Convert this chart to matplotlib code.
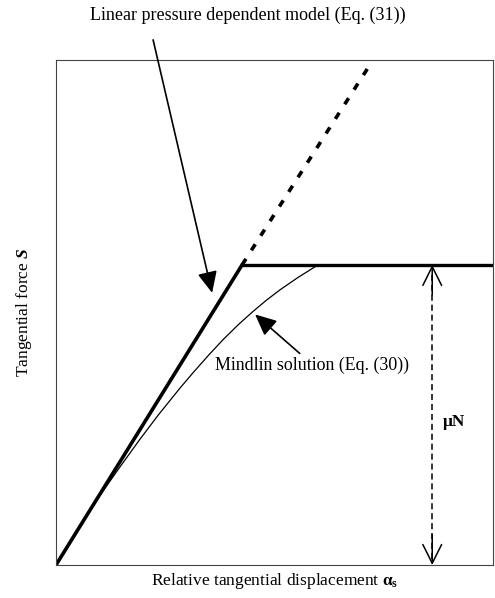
import matplotlib
matplotlib.use("Agg")
import matplotlib.pyplot as plt

# normalised units: stick limit at alpha = 1, S = muN = 1
linear_x = [0.0, 1.0]
linear_y = [0.0, 1.0]
extension_x = [1.0, 1.68]
extension_y = [1.0, 1.66]
plateau_x = [1.0, 2.35]
plateau_y = [1.0, 1.0]

# Mindlin curve
mindlin_x = [0.0, 0.2, 0.344, 0.45, 0.55, 0.667, 0.737, 0.82, 0.898, 0.98,
             1.059, 1.13, 1.204, 1.30, 1.403]
mindlin_y = [0.0, 0.2, 0.327, 0.418, 0.50, 0.59, 0.641, 0.699, 0.751, 0.801,
             0.845, 0.882, 0.917, 0.958, 0.998]

mu_n_x = 2.022

plt.rcParams['font.family'] = ['Liberation Serif', 'DejaVu Serif']
plt.rcParams['mathtext.fontset'] = 'custom'
plt.rcParams['mathtext.rm'] = 'Liberation Serif'
plt.rcParams['mathtext.it'] = 'Liberation Serif:bold:italic'
plt.rcParams['mathtext.bf'] = 'Liberation Serif:bold'

fig = plt.figure(figsize=(4.95, 5.98), dpi=100)
ax = fig.add_axes([0.1131, 0.0552, 0.883, 0.8445])
ax.set_xlim(0, 2.349)
ax.set_ylim(0, 1.683)
ax.set_xticks([])
ax.set_yticks([])
for sp in ax.spines.values():
    sp.set_linewidth(0.8)
    sp.set_color('#444444')

ax.plot(linear_x, linear_y, color='black', lw=2.6, solid_capstyle='round')
ax.plot(plateau_x, plateau_y, color='black', lw=2.4)
ax.plot(extension_x, extension_y, color='black', lw=2.6, ls=(0, (2.0, 2.8)))
ax.plot(mindlin_x, mindlin_y, color='black', lw=0.9)

# muN double arrow
ax.plot([mu_n_x, mu_n_x], [0.02, 0.98], color='black', lw=1.1, ls=(0, (4, 2.5)))
head = dict(arrowstyle='->,head_length=0.9,head_width=0.45', color='black',
            lw=1.1, mutation_scale=15, shrinkA=0, shrinkB=0)
ax.annotate('', xy=(mu_n_x, 1.0), xytext=(mu_n_x, 0.9), arrowprops=head)
ax.annotate('', xy=(mu_n_x, 0.0), xytext=(mu_n_x, 0.1), arrowprops=head)
ax.text(mu_n_x + 0.055, 0.475, '\u03bcN', fontsize=12.5, va='center', ha='left',
        fontweight='bold')

fill_head = dict(arrowstyle='-|>,head_length=1.3,head_width=0.6', color='black',
                 lw=1.2, mutation_scale=10, shrinkA=0, shrinkB=0)
ax.annotate('', xy=(0.839, 0.907), xytext=(0.522, 1.75),
            arrowprops=fill_head, annotation_clip=False)
ax.annotate('', xy=(1.07, 0.835), xytext=(1.31, 0.705),
            arrowprops=fill_head)

ax.text(0.855, 0.667, 'Mindlin solution (Eq. (30))', fontsize=12.9,
        ha='left', va='center')
fig.text(248 / 495, 1 - 15 / 598, 'Linear pressure dependent model (Eq. (31))',
         fontsize=13, ha='center', va='center')

ax.set_xlabel(r'Relative tangential displacement $\mathbf{\alpha}_{\mathbf{s}}$',
              fontsize=12.5, labelpad=4)
ax.set_ylabel(r'Tangential force $\mathit{S}$', fontsize=12.5, labelpad=16)

fig.savefig('out.png', dpi=100)
